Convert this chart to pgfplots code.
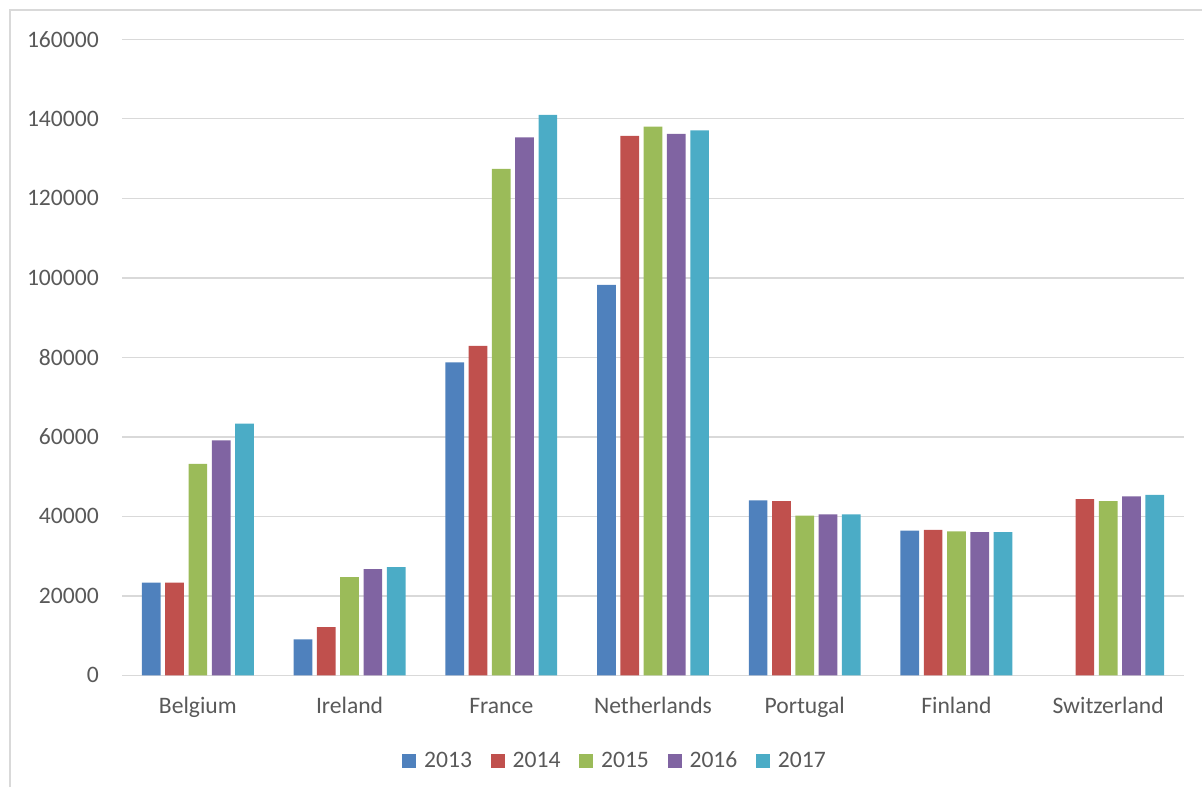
\documentclass[border=0pt]{standalone}
\usepackage{fontspec}
\setmainfont{Carlito}
\usepackage{pgfplots}
\pgfplotsset{compat=1.18}
\definecolor{c13}{HTML}{4F81BD}
\definecolor{c14}{HTML}{C0504D}
\definecolor{c15}{HTML}{9BBB59}
\definecolor{c16}{HTML}{8064A2}
\definecolor{c17}{HTML}{4BACC6}
\definecolor{txt}{HTML}{595959}
\definecolor{grd}{HTML}{D9D9D9}
\begin{document}
\begin{tikzpicture}[x=1pt,y=1pt]
\useasboundingbox (0,0) rectangle (601,393.5);
\draw[grd, line width=0.9pt] (5,0) -- (5,388.5) -- (601,388.5);
\begin{axis}[
  at={(61pt,55.85pt)}, anchor=south west,
  scale only axis, width=531pt, height=318pt,
  xmin=-0.5, xmax=6.5, ymin=0, ymax=160000,
  ytick={0,20000,...,160000},
  xtick={0,1,2,3,4,5,6},
  xticklabels={Belgium,Ireland,France,Netherlands,Portugal,Finland,Switzerland},
  ybar=2.3pt, bar width=9.35pt,
  axis line style={draw=none},
  tick style={draw=none},
  ymajorgrids, grid style={grd, line width=0.7pt},
  scaled y ticks=false,
  /pgf/number format/.cd, fixed, set thousands separator={}, assume math mode=true,
  /pgfplots/.cd,
  ticklabel style={font=\fontsize{11.8}{14}\selectfont, text=txt},
  yticklabel style={anchor=east, inner sep=0pt, xshift=-11.4pt},
  xticklabel style={anchor=base, inner sep=0pt, yshift=-15pt},
  legend style={at={(0.4647,-0.1345)}, anchor=center, draw=none, fill=none,
    font=\fontsize{11.8}{14}\selectfont, text=txt,
    /tikz/every even column/.append style={column sep=7.8pt},
    /tikz/every odd column/.append style={column sep=2.5pt},
    nodes={inner sep=1.5pt}},
  legend columns=-1,
  legend image code/.code={\fill[#1] (0pt,-3.5pt) rectangle (7pt,3.5pt);},
]
\addplot[fill=c13, draw=none] coordinates {(0,23300) (1,9060) (2,78700) (3,98200) (4,44000) (5,36400)};
\addplot[fill=c14, draw=none] coordinates {(0,23300) (1,12100) (2,82900) (3,135700) (4,43800) (5,36600) (6,44300)};
\addplot[fill=c15, draw=none] coordinates {(0,53200) (1,24700) (2,127400) (3,138000) (4,40200) (5,36200) (6,43800)};
\addplot[fill=c16, draw=none] coordinates {(0,59100) (1,26700) (2,135300) (3,136200) (4,40500) (5,36000) (6,45000)};
\addplot[fill=c17, draw=none] coordinates {(0,63300) (1,27200) (2,141000) (3,137100) (4,40500) (5,36000) (6,45400)};
\legend{2013,2014,2015,2016,2017}
\end{axis}
\end{tikzpicture}
\end{document}
